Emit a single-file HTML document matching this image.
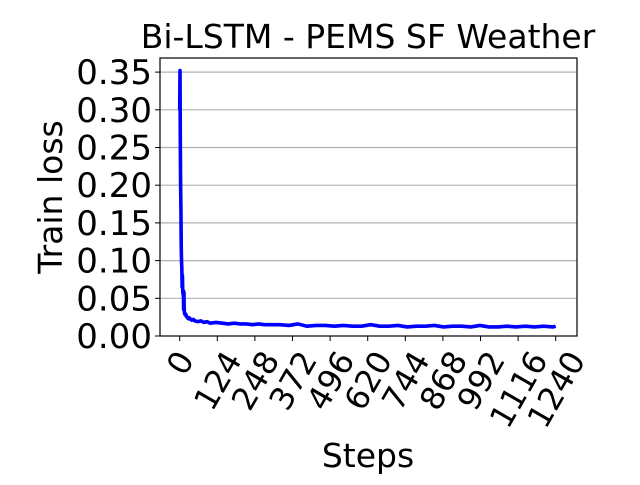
<!DOCTYPE html>
<html><head><meta charset="utf-8"><style>
body{margin:0;background:#fff}
text{font-family:"DejaVu Sans","Liberation Sans",sans-serif;fill:#000}
</style></head><body>
<svg id="c" width="640" height="480" xmlns="http://www.w3.org/2000/svg"></svg>
<script>
const steps=[0,1,2,3,4,5,6,7,8,9,10,11,12,13,14,15,16,18,20,22,25,28,32,36,40,45,50,60,70,80,90,100,120,140,160,180,200,220,240,260,280,300,330,360,390,420,450,480,510,540,570,600,630,660,690,720,750,780,810,840,870,900,930,960,990,1020,1050,1080,1110,1140,1170,1200,1230,1240];
const loss=[0.30,0.352,0.26,0.20,0.17,0.12,0.10,0.09,0.065,0.08,0.06,0.055,0.06,0.035,0.058,0.035,0.03,0.028,0.029,0.026,0.025,0.023,0.024,0.022,0.021,0.022,0.020,0.019,0.020,0.018,0.019,0.017,0.018,0.017,0.016,0.017,0.016,0.016,0.015,0.016,0.015,0.015,0.015,0.014,0.016,0.013,0.014,0.014,0.013,0.014,0.013,0.013,0.015,0.013,0.013,0.014,0.012,0.013,0.013,0.014,0.012,0.013,0.013,0.012,0.014,0.012,0.012,0.013,0.012,0.013,0.012,0.013,0.012,0.013];
const xTicks=[0,124,248,372,496,620,744,868,992,1116,1240];
const yTicks=[0,0.05,0.10,0.15,0.20,0.25,0.30,0.35];
const L=160,R=577,T=58,B=336;
const xs=v=>179.7+v*(555.7-179.7)/1240;
const ys=v=>336-v*(37.7/0.05);
const svg=document.getElementById('c');
const NS='http://www.w3.org/2000/svg';
function mk(t,a,p){const e=document.createElementNS(NS,t);for(const k in a)e.setAttribute(k,a[k]);(p||svg).appendChild(e);return e;}
yTicks.forEach(v=>{
  const y=ys(v);
  if(v>0){const g=mk('line',{x1:L,x2:R,y1:y,y2:y,stroke:'#b0b0b0','stroke-width':1.2});
  
  }
  mk('line',{x1:L-5,x2:L,y1:y,y2:y,stroke:'#000','stroke-width':1});
  const t=mk('text',{x:L-8,y:y+12,'text-anchor':'end','font-size':34});
  t.textContent=v.toFixed(2);
  
  
});
const FS=32;
xTicks.forEach(v=>{
  const x=xs(v);
  mk('line',{x1:x,x2:x,y1:B,y2:B+5,stroke:'#000','stroke-width':1});
  const t=mk('text',{x:x,y:0,'text-anchor':'middle','font-size':FS});
  t.textContent=v;
  
  
  const w=t.getComputedTextLength(), h=0.73*FS;
  const cy=348+(w*0.866+h*0.5)/2;
  t.setAttribute('y',cy+h/2);
  t.setAttribute('transform',`rotate(-60 ${x} ${cy})`);
});
const p=mk('polyline',{points:steps.map((s,i)=>xs(s)+','+ys(loss[i])).join(' '),fill:'none',stroke:'#0000ff','stroke-width':3.6,'stroke-linejoin':'round'});


const f=mk('rect',{x:L,y:T,width:R-L,height:B-T,fill:'none',stroke:'#000','stroke-width':1.2});


const ti=mk('text',{x:368,y:48,'text-anchor':'middle','font-size':33});
ti.textContent='Bi-LSTM - PEMS SF Weather';


const yl=mk('text',{x:0,y:0,'text-anchor':'middle','font-size':33,transform:'translate(62 197) rotate(-90)'});
yl.textContent='Train loss';


const xl=mk('text',{x:368,y:467,'text-anchor':'middle','font-size':33});
xl.textContent='Steps';


</script>
</body></html>
